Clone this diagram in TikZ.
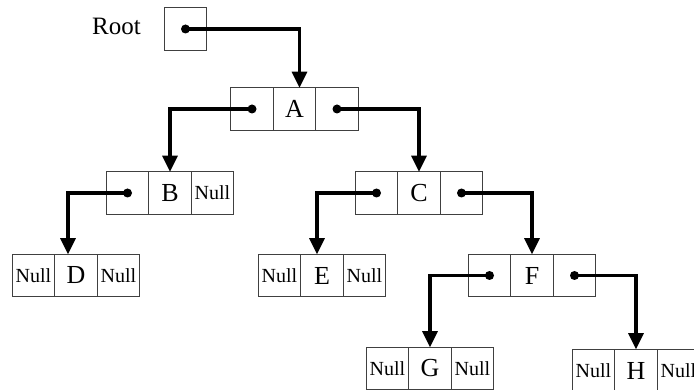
\documentclass[tikz,border=0pt]{standalone}
\usepackage{fontspec}
\setmainfont{Liberation Serif}
\usetikzlibrary{positioning,arrows.meta}
\providecommand{\cellsz}{42.5pt}
\providecommand{\boxLineColor}{black!75}
\providecommand{\nul}{\fontsize{20}{20}\selectfont Null}
% one list node: name, centre of middle cell, left, middle, right text
\newcommand{\listnode}[5]{%
  \node[cell] (#1m) at (#2) {#4};
  \node[cell, left=0pt of #1m] (#1l) {#3};
  \node[cell, right=0pt of #1m] (#1r) {#5};
}
\begin{document}
\begin{tikzpicture}[x=1pt, y=-1pt,
  cell/.style={draw=\boxLineColor, line width=1.2pt, minimum width=\cellsz,
    minimum height=\cellsz, inner sep=0pt, outer sep=0pt,
    font=\fontsize{26}{26}\selectfont},
  ptr/.style={line width=3.2pt, -{Triangle[width=15pt,length=16pt]}},
  dot/.style={fill=black}]
\useasboundingbox (0,0) rectangle (694,390);
% root pointer
\node[anchor=base, font=\fontsize{25}{25}\selectfont] (rootlabel) at (116.5,35) {Root};
\node[cell] (root) at (185.5,29) {};
% the nodes
\listnode{A}{294.5,109}{}{A}{}
\listnode{B}{170,193}{}{B}{\nul}
\listnode{C}{419,193}{}{C}{}
\listnode{D}{76,275.5}{\nul}{D}{\nul}
\listnode{E}{322,275.5}{\nul}{E}{\nul}
\listnode{F}{532,275.5}{}{F}{}
\listnode{G}{430,368.5}{\nul}{G}{\nul}
\listnode{H}{636,370.5}{\nul}{H}{\nul}
% pointers
\draw[ptr] (root.center) -| ([xshift=5pt]Am.north);
\draw[ptr] (Al.center) -| (Bm.north);
\draw[ptr] (Ar.center) -| (Cm.north);
\draw[ptr] (Bl.center) -| ([xshift=-8pt]Dm.north);
\draw[ptr] (Cl.center) -| ([xshift=-5pt]Em.north);
\draw[ptr] (Cr.center) -| (Fm.north);
\draw[ptr] (Fl.center) -| (Gm.north);
\draw[ptr] (Fr.center) -| (Hm.north);
% dots
\foreach \c in {root,Al,Ar,Bl,Cl,Cr,Fl,Fr}
  \fill[dot] (\c.center) circle (4.5);
\end{tikzpicture}
\end{document}
